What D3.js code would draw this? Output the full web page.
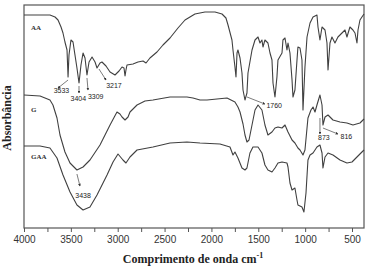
<!DOCTYPE html>
<html>
<head>
<meta charset="utf-8">
<script src="https://cdn.jsdelivr.net/npm/d3@7"></script>
<style>
  body { margin: 0; background: #fff; }
  .spec { fill: none; stroke: #404040; stroke-width: 1.1; stroke-linejoin: round; }
  .tick text { font-family: Arial, "Liberation Sans", sans-serif; font-size: 10px; fill: #333; }
  .ann { font-family: Arial, "Liberation Sans", sans-serif; font-size: 7px; fill: #222; }
  .name { font-family: "Liberation Serif", "Times New Roman", serif; font-size: 7px; font-weight: bold; fill: #333; }
  .title { font-family: "Liberation Serif", "Times New Roman", serif; font-size: 12px; font-weight: bold; fill: #222; }
</style>
</head>
<body>
<div id="chart"></div>
<script>
// wavenumber (cm-1) and absorbance (a.u., offset per sample)
var aaWave = [4000, 3829, 3723, 3669, 3637, 3605, 3584, 3563, 3541, 3530, 3520, 3499, 3477, 3456, 3435, 3413, 3392, 3370, 3349, 3328, 3306, 3274, 3242, 3221, 3189, 3168, 3125, 3082, 3029, 2986, 2954, 2933, 2922, 2912, 2901, 2837, 2784, 2730, 2698, 2656, 2581, 2517, 2442, 2357, 2282, 2176, 2069, 1962, 1887, 1845, 1823, 1781, 1770, 1749, 1738, 1727, 1717, 1695, 1674, 1663, 1642, 1621, 1610, 1567, 1535, 1503, 1482, 1461, 1450, 1429, 1397, 1375, 1354, 1343, 1322, 1301, 1290, 1247, 1237, 1215, 1194, 1183, 1162, 1140, 1130, 1109, 1087, 1077, 1055, 1034, 1023, 1002, 980, 948, 916, 874, 863, 842, 820, 788, 767, 756, 735, 714, 682, 650, 607, 575, 554, 522, 490, 468, 447, 436, 415, 394, 372];
var aaAbs = [213, 213, 213, 211, 208, 201, 195, 186, 178, 151, 173, 188, 186, 173, 160, 145, 163, 175, 170, 153, 166, 171, 166, 160, 165, 166, 162, 156, 153, 157, 161, 160, 152, 158, 163, 164, 166, 167, 165, 170, 176, 183, 190, 200, 208, 214, 216, 216, 214, 210, 203, 188, 178, 161, 151, 175, 178, 170, 155, 138, 128, 135, 155, 178, 188, 191, 185, 188, 181, 188, 185, 175, 168, 145, 131, 151, 168, 175, 188, 190, 178, 185, 175, 148, 131, 138, 168, 181, 180, 168, 118, 161, 191, 205, 211, 213, 201, 188, 201, 198, 185, 158, 185, 191, 185, 191, 195, 198, 191, 201, 198, 195, 185, 198, 208, 211, 214];

var gWave = [4000, 3829, 3723, 3691, 3648, 3616, 3563, 3509, 3435, 3370, 3296, 3189, 3082, 3008, 2976, 2954, 2922, 2890, 2869, 2794, 2709, 2624, 2442, 2261, 2197, 2122, 2047, 1941, 1834, 1749, 1717, 1695, 1663, 1642, 1621, 1599, 1567, 1535, 1503, 1461, 1429, 1397, 1354, 1322, 1290, 1247, 1215, 1183, 1140, 1109, 1077, 1055, 1023, 1002, 970, 938, 916, 895, 874, 842, 820, 810, 788, 756, 703, 628, 554, 490, 415, 372];
var gAbs = [133, 132, 128, 123, 110, 93, 76, 65, 58, 61, 68, 83, 103, 116, 114, 111, 108, 111, 116, 123, 127, 128, 131, 131, 130, 128, 128, 129, 130, 126, 121, 116, 104, 93, 86, 88, 103, 118, 123, 118, 103, 93, 96, 100, 101, 100, 103, 96, 88, 85, 80, 78, 73, 78, 110, 118, 121, 116, 123, 133, 123, 103, 111, 113, 108, 106, 105, 103, 105, 109];

var gaaWave = [4000, 3829, 3723, 3648, 3584, 3509, 3435, 3370, 3296, 3221, 3114, 3050, 2997, 2944, 2912, 2869, 2794, 2624, 2442, 2261, 2122, 1909, 1802, 1770, 1749, 1717, 1674, 1642, 1621, 1589, 1557, 1503, 1461, 1429, 1397, 1354, 1322, 1290, 1247, 1194, 1183, 1162, 1140, 1109, 1087, 1077, 1034, 1013, 991, 970, 948, 916, 874, 842, 820, 810, 788, 756, 703, 628, 554, 500, 447, 394, 372];
var gaaAbs = [82, 82, 80, 70, 53, 36, 23, 18, 21, 33, 53, 66, 74, 68, 65, 71, 78, 81, 85, 86, 85, 84, 81, 73, 76, 70, 60, 58, 60, 75, 81, 81, 75, 63, 58, 56, 60, 65, 66, 65, 61, 45, 38, 40, 28, 23, 21, 16, 35, 68, 73, 75, 81, 83, 75, 60, 71, 75, 73, 68, 65, 66, 71, 76, 78];

var xTicks = [4000, 3500, 3000, 2500, 2000, 1500, 1000, 500];
var xMinor = [3750, 3250, 2750, 2250, 1750, 1250, 750];

var names = ["AA", "G", "GAA"];
var nameAbs = [200, 118, 71];

// band labels: peak [wave, abs] -> label [wave, abs]
var bandText = ["3533", "3404", "3309", "3217", "1760", "3438", "873", "816"];
var bandFrom = [[3530, 148], [3413, 142], [3328, 150], [3200, 159], [1620, 131], [3435, 54], [842, 110], [810, 100]];
var bandTo = [[3637, 140], [3413, 135], [3317, 138], [3125, 148], [1430, 124], [3403, 42], [842, 94], [650, 94]];
var bandLabel = [[3600, 135], [3420, 127], [3235, 129], [3040, 140], [1330, 120], [3370, 30], [800, 88], [560, 89]];

function init() {
    var width = 368;
    var height = 270;
    var left = 24, right = 364, top = 5, bottom = 228;

    var svg = d3.select("#chart")
        .append("svg")
        .attr("width", width)
        .attr("height", height);

    var x = d3.scaleLinear().domain([4000, 372]).range([left, right]);
    var y = d3.scaleLinear().domain([0, 223]).range([bottom, top]);

    svg.append("defs").append("marker")
        .attr("id", "head")
        .attr("viewBox", "0 0 6 6")
        .attr("refX", 5)
        .attr("refY", 3)
        .attr("markerWidth", 4)
        .attr("markerHeight", 4)
        .attr("orient", "auto")
        .append("path")
        .attr("d", "M0,0L6,3L0,6Z")
        .attr("fill", "#333");

    // frame
    svg.append("rect")
        .attr("x", left)
        .attr("y", top)
        .attr("width", right - left)
        .attr("height", bottom - top)
        .attr("fill", "none")
        .attr("stroke", "#555")
        .attr("stroke-width", 1.2);

    // bottom axis
    var xAxis = svg.append("g")
        .attr("transform", "translate(0," + bottom + ")")
        .call(d3.axisBottom(x).tickValues(xTicks).tickSize(4).tickPadding(4).tickFormat(d3.format("d")));
    xAxis.select(".domain").remove();
    xAxis.selectAll("line").attr("stroke", "#555");

    svg.append("g")
        .attr("transform", "translate(0," + bottom + ")")
        .call(d3.axisBottom(x).tickValues(xMinor).tickSize(4).tickFormat(""))
        .call(function (g) { g.select(".domain").remove(); })
        .selectAll("line").attr("stroke", "#555");

    var line = d3.line()
        .x(function (d) { return x(d[0]); })
        .y(function (d) { return y(d[1]); });

    var series = [
        d3.zip(aaWave, aaAbs),
        d3.zip(gWave, gAbs),
        d3.zip(gaaWave, gaaAbs)
    ];

    svg.selectAll(".spec")
        .data(series)
        .enter()
        .append("path")
        .attr("class", "spec")
        .attr("d", line);

    // sample names
    svg.selectAll(".name")
        .data(names)
        .enter()
        .append("text")
        .attr("class", "name")
        .attr("x", 31)
        .attr("y", function (d, i) { return y(nameAbs[i]) + 2; })
        .text(function (d) { return d; });

    // band arrows and labels
    bandText.forEach(function (t, i) {
        svg.append("line")
            .attr("x1", x(bandFrom[i][0]))
            .attr("y1", y(bandFrom[i][1]))
            .attr("x2", x(bandTo[i][0]))
            .attr("y2", y(bandTo[i][1]))
            .attr("stroke", "#444")
            .attr("stroke-width", 0.7)
            .attr("marker-end", "url(#head)");
        svg.append("text")
            .attr("class", "ann")
            .attr("x", x(bandLabel[i][0]))
            .attr("y", y(bandLabel[i][1]))
            .attr("text-anchor", "middle")
            .text(t);
    });

    // axis titles
    var xt = svg.append("text")
        .attr("class", "title")
        .attr("x", 193)
        .attr("y", 263)
        .attr("text-anchor", "middle");
    xt.append("tspan").text("Comprimento de onda cm");
    xt.append("tspan").attr("dy", -5).attr("font-size", 8).text("-1");

    svg.append("text")
        .attr("class", "title")
        .attr("transform", "translate(11,118) rotate(-90)")
        .attr("text-anchor", "middle")
        .text("Absorbância");
}

window.onload = init;
</script>
</body>
</html>
